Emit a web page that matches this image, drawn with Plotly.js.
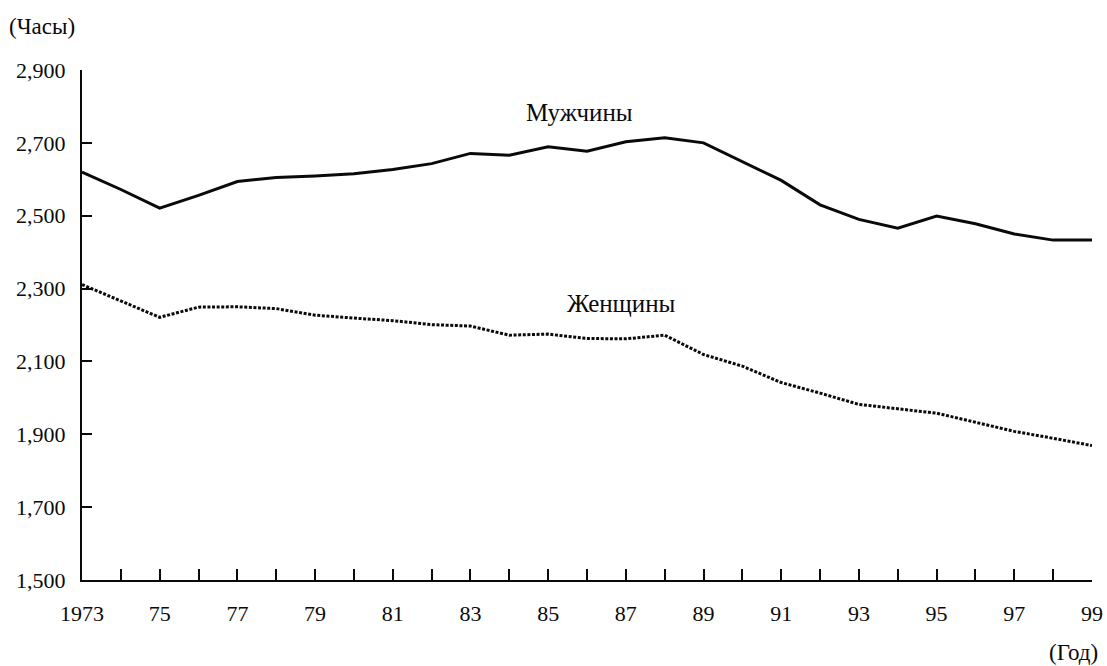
<!DOCTYPE html>
<html>
<head>
<meta charset="utf-8">
<script src="https://cdn.plot.ly/plotly-3.0.1.min.js"></script>
<style>html,body{margin:0;padding:0;background:#fff;}#chart{width:1107px;height:666px;}</style>
</head>
<body>
<div id="chart"></div>
<script>
const years = [1973,1974,1975,1976,1977,1978,1979,1980,1981,1982,1983,1984,1985,1986,1987,1988,1989,1990,1991,1992,1993,1994,1995,1996,1997,1998,1999];
const menHours = [2620,2572,2521,2556,2594,2605,2609,2615,2627,2643,2671,2666,2689,2677,2703,2714,2700,2648,2597,2530,2490,2466,2499,2478,2450,2433,2433];
const womenHours = [2311,2265,2221,2249,2250,2245,2227,2219,2212,2201,2197,2172,2175,2163,2162,2172,2119,2087,2042,2013,1982,1970,1958,1933,1908,1889,1869];
const xTickLabels = ['1973','','75','','77','','79','','81','','83','','85','','87','','89','','91','','93','','95','','97','','99'];
const yTickVals = [1500,1700,1900,2100,2300,2500,2700,2900];
const yTickText = ['1,500','1,700','1,900','2,100','2,300','2,500','2,700','2,900'];
const menLabel = 'Мужчины';
const womenLabel = 'Женщины';
const yUnit = '(Часы)';
const xUnit = '(Год)';

const FONT = 'Liberation Serif, Times New Roman, serif';
const INK = '#0a0a0a';

const traces = [
  {x: years, y: menHours, type: 'scatter', mode: 'lines', name: menLabel,
   line: {color: INK, width: 3}, hoverinfo: 'skip'},
  {x: years, y: womenHours, type: 'scatter', mode: 'lines', name: womenLabel,
   line: {color: INK, width: 3, dash: '3px,1.6px'}, hoverinfo: 'skip'}
];

const layout = {
  width: 1107, height: 666,
  margin: {l: 82, r: 15, t: 70, b: 86},
  paper_bgcolor: '#ffffff', plot_bgcolor: '#ffffff',
  showlegend: false,
  font: {family: FONT, size: 22, color: INK},
  xaxis: {
    range: [1973, 1999], tickvals: years, ticktext: xTickLabels,
    ticks: 'inside', ticklen: 11, tickwidth: 2, tickcolor: INK,
    showline: true, linewidth: 2, linecolor: INK,
    showgrid: false, zeroline: false, fixedrange: true,
    tickfont: {family: FONT, size: 22, color: INK},
    ticklabelstandoff: 13
  },
  yaxis: {
    range: [1500, 2900], tickvals: yTickVals, ticktext: yTickText,
    ticks: 'inside', ticklen: 10, tickwidth: 2, tickcolor: INK,
    showline: true, linewidth: 2, linecolor: INK,
    showgrid: false, zeroline: false, fixedrange: true,
    tickfont: {family: FONT, size: 22, color: INK},
    ticklabelstandoff: 10
  },
  annotations: [
    {text: menLabel, x: 1985.8, y: 2782, xref: 'x', yref: 'y', showarrow: false,
     font: {family: FONT, size: 25, color: INK}, xanchor: 'center', yanchor: 'middle'},
    {text: womenLabel, x: 1986.9, y: 2260, xref: 'x', yref: 'y', showarrow: false,
     font: {family: FONT, size: 25, color: INK}, xanchor: 'center', yanchor: 'middle'},
    {text: yUnit, x: -0.074, y: 1.086, xref: 'paper', yref: 'paper', showarrow: false,
     font: {family: FONT, size: 23, color: INK}, xanchor: 'left', yanchor: 'middle'},
    {text: xUnit, x: 1.008, y: -0.143, xref: 'paper', yref: 'paper', showarrow: false,
     font: {family: FONT, size: 23, color: INK}, xanchor: 'right', yanchor: 'middle'}
  ]
};

Plotly.newPlot('chart', traces, layout, {displayModeBar: false, staticPlot: true});
</script>
</body>
</html>
